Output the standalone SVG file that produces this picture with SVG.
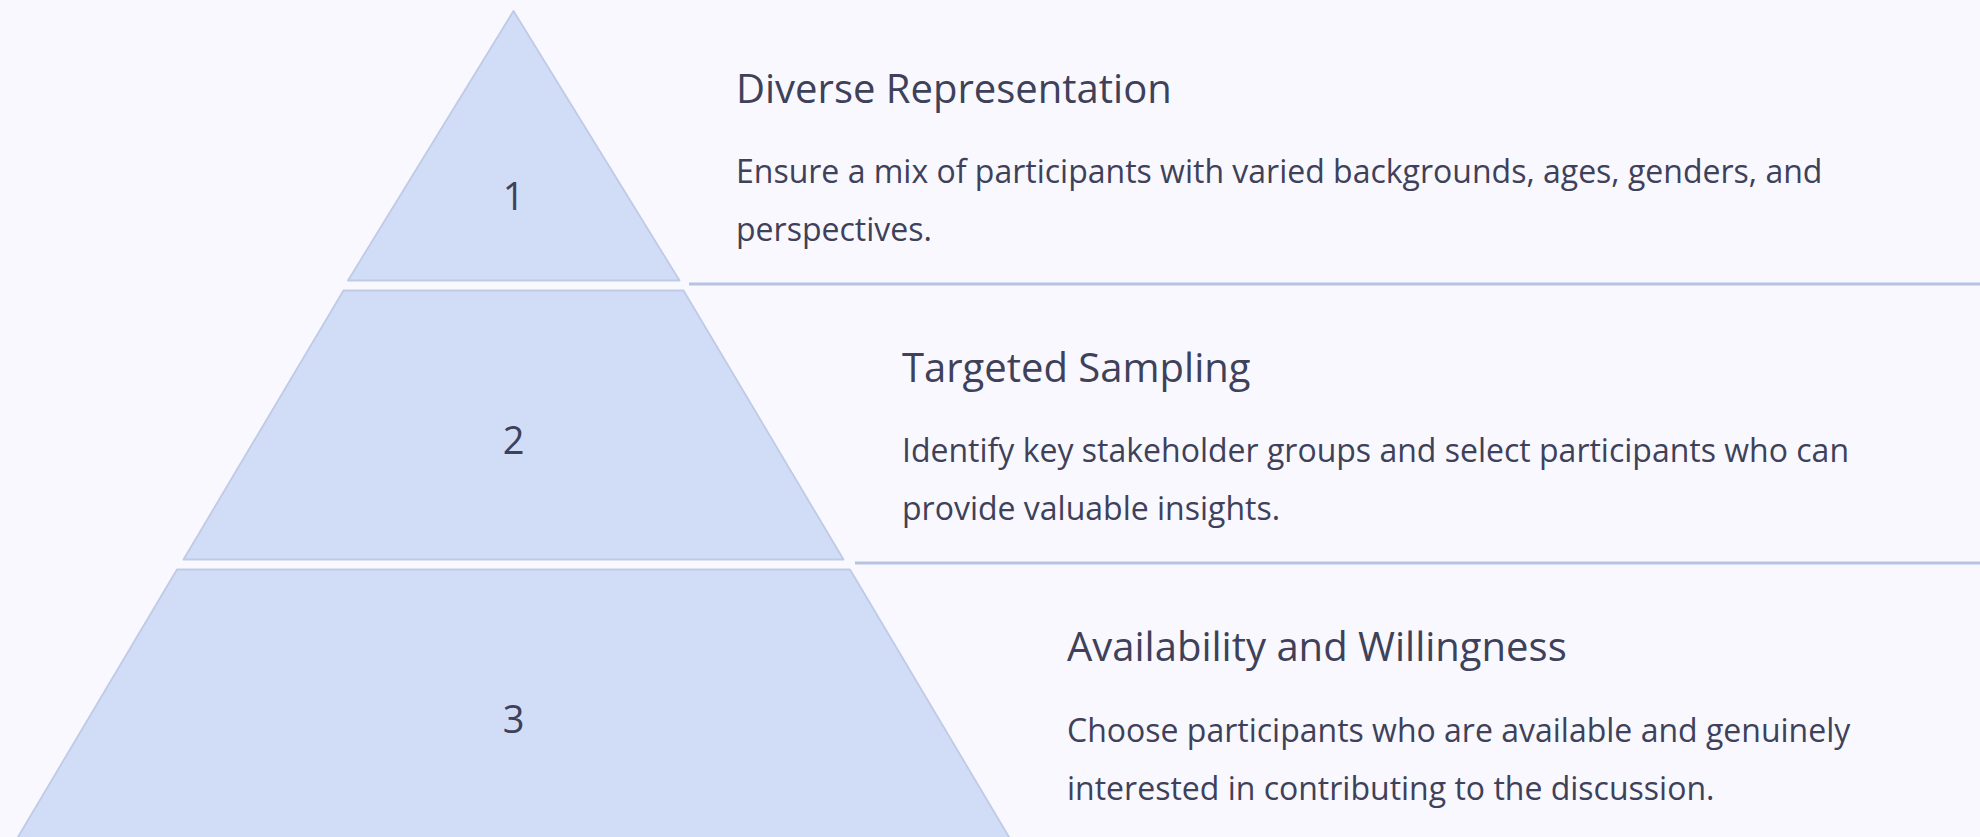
<svg xmlns="http://www.w3.org/2000/svg" width="1980" height="837" viewBox="0 0 1980 837">
<style>
.tier{fill:#d1ddf7;stroke:#bfcbe6;stroke-width:1.8;stroke-linejoin:round}
.num{font-family:"Open Sans","Noto Sans",sans-serif;font-size:38px;fill:#3e4159;text-anchor:middle}
.title{font-family:"Open Sans","Noto Sans",sans-serif;font-size:40px;fill:#3e4159}
.body{font-family:"Open Sans","Noto Sans",sans-serif;font-size:32px;fill:#3e4159}
.sep{stroke:#b6c4e2;stroke-width:3;fill:none}
</style>
<rect x="0" y="0" width="1980" height="837" fill="#f8f8fe"/>
<g id="connectors">
<line class="sep" x1="689" y1="284" x2="1980" y2="284"/>
<line class="sep" x1="855" y1="563" x2="1980" y2="563"/>
</g>
<g id="tier1">
<polygon class="tier" points="513.5,11 679.5,280.5 348,280.5"/>
<text class="num" x="513.5" y="210">1</text>
<text class="title" x="736" y="103">Diverse Representation</text>
<text class="body" x="736" y="183">Ensure a mix of participants with varied backgrounds, ages, genders, and</text>
<text class="body" x="736" y="241">perspectives.</text>
</g>
<g id="tier2">
<polygon class="tier" points="343.5,290.5 683.5,290.5 843.5,559.5 183.5,559.5"/>
<text class="num" x="513.5" y="454">2</text>
<text class="title" x="902" y="382">Targeted Sampling</text>
<text class="body" x="902" y="462">Identify key stakeholder groups and select participants who can</text>
<text class="body" x="902" y="520">provide valuable insights.</text>
</g>
<g id="tier3">
<polygon class="tier" points="177,569.5 850,569.5 1012,842 15,842"/>
<text class="num" x="513.5" y="733">3</text>
<text class="title" x="1067" y="661">Availability and Willingness</text>
<text class="body" x="1067" y="742">Choose participants who are available and genuinely</text>
<text class="body" x="1067" y="800">interested in contributing to the discussion.</text>
</g>
</svg>
